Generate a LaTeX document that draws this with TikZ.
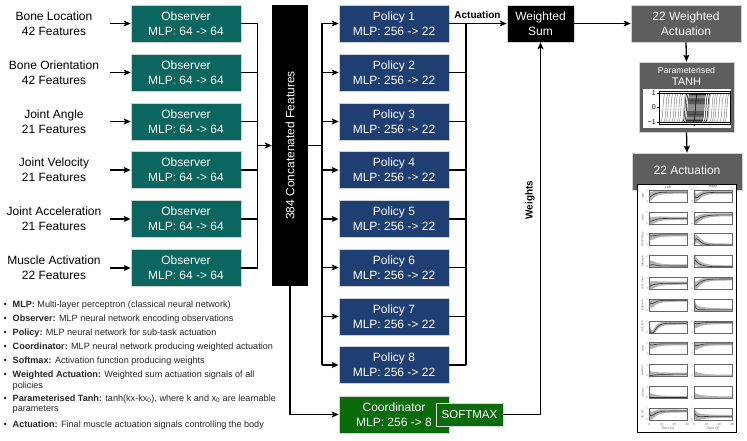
\documentclass[tikz,border=0pt]{standalone}
\usepackage{fontspec}
\setmainfont{Liberation Sans}
\usetikzlibrary{arrows.meta}
\definecolor{obs}{HTML}{0B6660}
\definecolor{pol}{HTML}{1F3E72}
\definecolor{coord}{HTML}{0A6B0A}
\definecolor{grayb}{HTML}{5E5E5E}
\newcommand{\fs}[1]{\fontsize{#1}{#1}\selectfont}
% x0, ytop, start, end, tau, dip
\newcommand{\actpanel}[6]{%
  \fill[black!30] plot[domain=0:30,samples=31] ({#1+\x*38/30},{#2+12-12*max(0,min(1,#4+(#3-#4)*exp(-\x/#5)-#6*(\x/2)*exp(1-\x/2)+0.12+0.3*exp(-\x/6)))})
     -- plot[domain=30:0,samples=31] ({#1+\x*38/30},{#2+12-12*max(0,min(1,#4+(#3-#4)*exp(-\x/#5)-#6*(\x/2)*exp(1-\x/2)-0.12-0.3*exp(-\x/6)))}) -- cycle;
  \draw[black!80,line width=0.6pt] plot[domain=0:30,samples=31] ({#1+\x*38/30},{#2+12-12*max(0,min(1,#4+(#3-#4)*exp(-\x/#5)-#6*(\x/2)*exp(1-\x/2)))});
  \draw[black!60,line width=0.35pt] (#1,#2) rectangle ++(38,12);
  \node[font=\fs{2.6},text=black!60,inner sep=0] at (#1-2,#2+1) {1};
  \node[font=\fs{2.6},text=black!60,inner sep=0] at (#1-2,#2+11.5) {0};
}
\tikzset{
  box/.style={rectangle, minimum width=110pt, minimum height=37pt, inner sep=0pt,
    text=white, align=center, font=\fontsize{12}{15}\selectfont, draw=black!18, line width=0.6pt},
  obsbox/.style={box, fill=obs},
  polbox/.style={box, fill=pol},
  lbl/.style={align=center, font=\fontsize{12}{15}\selectfont, inner sep=0pt},
  conn/.style={line width=1.3pt},
  arr/.style={conn, -{Stealth[length=7pt,width=6pt,inset=1.5pt]}},
  leg/.style={anchor=west, inner sep=0pt, font=\fontsize{9.1}{11}\selectfont, text=black!85},
}
\begin{document}
\begin{tikzpicture}[x=1pt,y=-1pt]
\useasboundingbox[fill=white] (0,0) rectangle (747,441);

% ---- observers
\foreach \i/\y/\t in {1/23.5/{Bone Location\\42 Features},
                      2/72.5/{Bone Orientation\\42 Features},
                      3/121.5/{Joint Angle\\21 Features},
                      4/170/{Joint Velocity\\21 Features},
                      5/219/{Joint Acceleration\\21 Features},
                      6/268/{Muscle Activation\\22 Features}}{
  \node[lbl] (in\i) at (54,\y) {\t};
  \node[obsbox] (obs\i) at (186,\y) {Observer\\MLP: 64 -> 64};
  \draw[arr] (obs\i.west) ++(-21,0) -- (obs\i.west);
}

% ---- concatenation
\node[fill=black, minimum width=36pt, minimum height=281pt, inner sep=0pt] (concat) at (290,145.5) {};
\node[rotate=90, text=white, font=\fontsize{12}{15}\selectfont] (concattxt) at (concat.center) {384 Concatenated Features};

\draw[conn] (obs1.east) -- ++(16,0) |- (obs6.east);
\foreach \i in {2,3,4,5}{ \draw[conn] (obs\i.east) -- ++(16,0); }
\draw[arr] (concat.west) ++(-15,0) -- (concat.west);

% ---- policies
\foreach \i/\y in {1/23.5,2/72.5,3/121.5,4/170,5/219,6/267.5,7/316.5,8/365}{
  \node[polbox] (pol\i) at (394,\y) {Policy \i\\MLP: 256 -> 22};
}
\coordinate (pb) at (322,0);
\coordinate (ab) at (466,0);
\draw[conn] (concat.east) -- (concat.east -| pb);
\draw[conn] (pol1.west -| pb) -- (pol8.west -| pb);
\foreach \i in {1,...,8}{ \draw[arr] (pol\i.west -| pb) -- (pol\i.west); }
\draw[conn] (pol1.east -| ab) -- (pol8.east -| ab);
\foreach \i in {2,...,8}{ \draw[conn] (pol\i.east) -- (pol\i.east -| ab); }

% ---- coordinator
\node[box, fill=coord] (coord) at (394,414.5) {Coordinator\\MLP: 256 -> 8};
\node[rectangle, fill=coord, draw=black!15, line width=0.8pt, text=white, minimum width=67pt, minimum height=23pt, inner sep=0pt, font=\fs{11.5}] (sm) at (469.5,414.5) {SOFTMAX};
\draw[arr] (concat.south) |- (coord.west);

% ---- weighted sum
\node[box, fill=black, minimum width=67pt] (ws) at (540.5,23.5) {Weighted\\Sum};
\draw[arr] (pol1.east) -- (ws.west);
\node[font=\bfseries\fs{10}, inner sep=0pt] (actlbl) at (477.5,15) {Actuation};
\draw[arr] (sm.east) -| (ws.south);
\node[rotate=90, font=\bfseries\fs{10}, inner sep=0pt] (wlbl) at (530,200) {Weights};

% ---- right column
\node[box, fill=grayb] (wact) at (686,23.5) {22 Weighted\\Actuation};
\draw[arr] (ws.east) -- (wact.west);

\node[box, fill=grayb, minimum width=95pt, minimum height=70pt] (tanh) at (686.5,97) {};
\node[text=white, font=\fs{8.8}, inner sep=0pt] (tanht1) at (686.5,70) {Parameterised};
\node[text=white, font=\fs{11}, inner sep=0pt] (tanht2) at (686.5,82) {TANH};
\draw[arr] (wact.south) -- (tanh.north);
% tanh plot inset
\fill[white] (643,89.5) rectangle (731,128.5);
\begin{scope}
  \clip (659,91.5) rectangle (730,124);
  \foreach \c in {663,666,668,671,674,676,679,681,684,709,712,714,716,719,722,725,727}{
    \draw[black!55,line width=0.4pt] plot[domain=-2.6:2.6,samples=13,smooth] ({\c+1.0*\x},{107.5-14.5*tanh(\x)});
  }
  \foreach \c in {685,686.5,688,689,690,691,692,693,694,695,695.5,696,697,698,699,700,701,702,703,704,706,708}{
    \draw[black,line width=0.5pt] plot[domain=-2.6:2.6,samples=13,smooth] ({\c+1.0*\x},{107.5-14.5*tanh(\x)});
  }
  \draw[line width=0.4pt] (659,93) -- (730,93) (659,122) -- (730,122);
\end{scope}
\draw[line width=0.4pt] (659,91.5) rectangle (730,124);
\foreach \yy in {93,107.5,122}{ \draw[line width=0.4pt] (657,\yy) -- (659,\yy); }
\draw[line width=0.4pt] (694,124) -- (694,126);
\node[font=\fs{7}, inner sep=0pt, anchor=east] (tk1) at (656,93) {1};
\node[font=\fs{7}, inner sep=0pt, anchor=east] (tk0) at (656,107.5) {0};
\node[font=\fs{7}, inner sep=0pt, anchor=east] (tkm) at (656,122) {−1};

\node[box, fill=grayb] (act) at (687,171.5) {};
\node[text=white, font=\fs{12}, inner sep=0pt] (acttxt) at (687,170) {22 Actuation};
\draw[arr] (tanh.south) -- (act.north);

% actuation plot
\node[draw=black, fill=white, line width=0.8pt, minimum width=99pt, minimum height=248pt, inner sep=0pt] (actplot) at (686.5,308) {};
\node[font=\fs{3.5}, text=black!70, inner sep=0] (lft) at (668,187) {Left};
\node[font=\fs{3.5}, text=black!70, inner sep=0] (rgt) at (713,187) {Right};
\foreach \r/\nm/\ls/\le/\lt/\ld/\rs/\re/\rt/\rd in {
  0/abd/0.4/0.82/1.5/0.2/0.7/0.8/3/0.4,
  1/add/0.3/0.45/3/0.15/0.15/0.75/5/0.05,
  2/hamstrings/0.9/0.9/2/0.1/0.1/0.05/2/-0.5,
  3/bifemsh/0.05/0.12/3/-0.15/0.75/0.05/4/0.0,
  4/glut\_max/0.2/0.5/4/0.0/0.3/0.85/4/0.2,
  5/iliopsoas/0.9/0.9/2/0.3/0.8/0.1/1/0.0,
  6/rect\_fem/0.9/0.8/3/1.0/0.85/0.85/2/0.1,
  7/vasti/0.9/0.9/2/0.1/0.9/0.9/2/0.15,
  8/gastroc/0.05/0.2/8/0.0/0.02/0.02/2/0.0,
  9/soleus/0.05/0.05/2/0.0/0.03/0.03/2/0.0,
  10/tib\_ant/0.6/0.75/4/0.3/0.7/0.3/2/0.1}{
  \pgfmathsetmacro{\yt}{190+21.8*\r}
  \actpanel{649}{\yt}{\ls}{\le}{\lt}{\ld}
  \actpanel{694}{\yt}{\rs}{\re}{\rt}{\rd}
  \node[rotate=90, font=\fs{3}, text=black!60, inner sep=0] at (642.5,\yt+6) {\nm};
}
\foreach \xo in {649,694}{
  \foreach \k/\v in {0/0,1/10,2/20,3/30}{
    \node[font=\fs{3}, text=black!60, inner sep=0] at (\xo+\k*38/3,424.5) {\v};
  }
  \node[font=\fs{3.5}, text=black!60, inner sep=0] at (\xo+19,429) {Time (s)};
}

% ---- legend
\node[leg] (l1) at (3.5,305) {\makebox[9pt][l]{\textbullet}\textbf{MLP:} Multi-layer perceptron (classical neural network)};
\node[leg] (l2) at (3.5,319) {\makebox[9pt][l]{\textbullet}\textbf{Observer:} MLP neural network encoding observations};
\node[leg] (l3) at (3.5,333) {\makebox[9pt][l]{\textbullet}\textbf{Policy:} MLP neural network for sub-task actuation};
\node[leg] (l4) at (3.5,347) {\makebox[9pt][l]{\textbullet}\textbf{Coordinator:} MLP neural network producing weighted actuation};
\node[leg] (l5) at (3.5,361) {\makebox[9pt][l]{\textbullet}\textbf{Softmax:} Activation function producing weights};
\node[leg] (l6) at (3.5,375) {\makebox[9pt][l]{\textbullet}\textbf{Weighted Actuation:} Weighted sum actuation signals of all};
\node[leg] (l6b) at (12.5,386) {policies};
\node[leg] (l7) at (3.5,399) {\makebox[9pt][l]{\textbullet}\textbf{Parameterised Tanh:} tanh(kx-kx\textsubscript{0}), where k and x\textsubscript{0} are learnable};
\node[leg] (l7b) at (12.5,410) {parameters};
\node[leg] (l8) at (3.5,425) {\makebox[9pt][l]{\textbullet}\textbf{Actuation:} Final muscle actuation signals controlling the body};
\end{tikzpicture}
\end{document}
